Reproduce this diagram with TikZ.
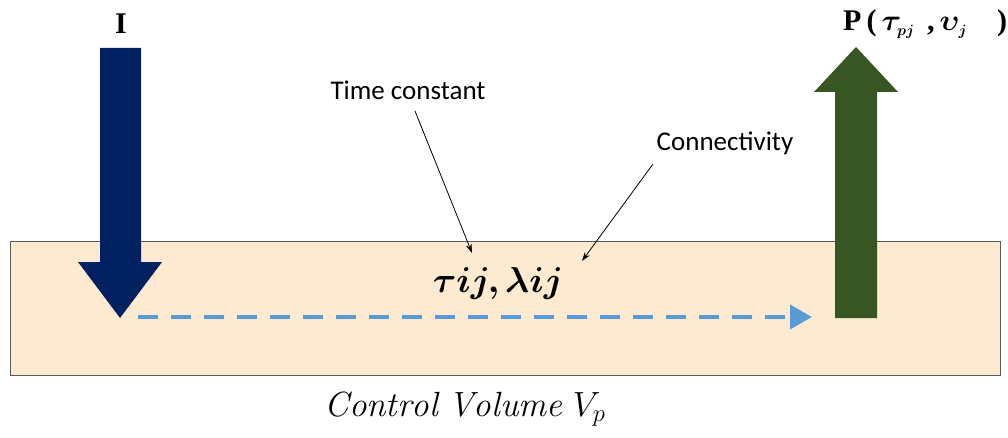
\RequirePackage{fix-cm}
\documentclass[tikz,border=0pt]{standalone}
\usepackage{amsmath,bm}
\usepackage{fontspec}
\newfontfamily\calib{Carlito}
\newfontfamily\tnr{Liberation Serif}
\usetikzlibrary{arrows.meta}
\definecolor{navy}{HTML}{002060}
\definecolor{dgreen}{HTML}{375623}
\definecolor{beige}{HTML}{FDEAD0}
\definecolor{lblue}{HTML}{5B9BD5}
\tikzset{
  lbl/.style={font=\calib\fontsize{27}{30}\selectfont, inner sep=0pt},
  pointer/.style={draw=black, line width=0.8pt, -{Stealth[length=9pt,width=6pt]}},
}
\begin{document}
\begin{tikzpicture}[x=1pt,y=-1pt]
\useasboundingbox (0,0) rectangle (1008,438);
\node[draw=gray!70!black, fill=beige, line width=0.8pt, minimum width=990pt, minimum height=134pt, inner sep=0pt, anchor=north west] (cv) at (10,241) {};
% input arrow
\fill[navy] (100,48) -- (141,48) -- (141,262) -- (162,262) -- (120,318) -- (78,262) -- (100,262) -- cycle;
\node[font=\tnr\bfseries\fontsize{30}{32}\selectfont, inner sep=0pt] (I) at (121,24) {I};
% output arrow
\fill[dgreen] (835,318) -- (877,318) -- (877,92) -- (898,92) -- (856,47) -- (814,92) -- (835,92) -- cycle;
\coordinate (pbase) at (812,317);
\node[font=\tnr\bfseries\fontsize{30}{32}\selectfont, inner sep=0pt, anchor=west] (P) at (843,24) {P\,(\,$\bm{\tau}_{\scriptscriptstyle\bm{pj}}$\, ,\,$\bm{\upsilon}_{\scriptscriptstyle\bm{j}}$\quad)};
% dashed flow
\coordinate (dstart) at (138,317);
\draw[lblue, line width=4pt, dash pattern=on 20pt off 13pt, -{Triangle[length=22pt,width=24pt]}] (dstart) -- (pbase);
% labels
\node[lbl] (tc) at (408,90) {Time constant};
\node[lbl] (con) at (725,143) {Connectivity};
\node[font=\fontsize{36}{40}\selectfont, inner sep=0pt] (tl) at (498,283) {$\bm{\tau ij, \lambda ij}$};
\coordinate (a1) at (472,253);
\coordinate (a2) at (582,261);
\draw[pointer] (415,111) -- (a1);
\draw[pointer] (653,164) -- (a2);
\node[font=\fontsize{35}{38}\selectfont, inner sep=0pt] (ctl) at (465,409) {$\mathit{Control\ Volume}\ V_p$};
\end{tikzpicture}
\end{document}
